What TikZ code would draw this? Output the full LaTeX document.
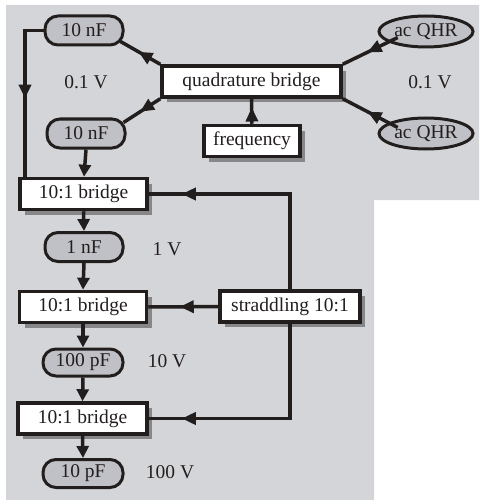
\documentclass[tikz,border=0pt]{standalone}
\usepackage{fontspec}
\setmainfont{Liberation Serif}
\usetikzlibrary{arrows.meta,decorations.markings,shadows,shapes.geometric}
\definecolor{bggray}{RGB}{212,213,216}
\definecolor{ovalgray}{RGB}{192,193,198}
\definecolor{shadgray}{RGB}{135,135,138}
\definecolor{inkc}{RGB}{35,30,30}
\begin{document}
\begin{tikzpicture}[x=1pt,y=-1pt,
  every node/.style={font=\fontsize{19.5}{22}\selectfont, inner sep=0pt, text=inkc},
  link/.style={line width=3.5pt, draw=inkc},
  boxnode/.style={draw=inkc, line width=3.5pt, fill=white, minimum height=31pt,
     drop shadow={shadow xshift=5pt, shadow yshift=-5pt, fill=shadgray, opacity=1}},
  capnode/.style={draw=inkc, line width=3pt, fill=ovalgray, rounded corners=13pt,
     minimum width=78pt, minimum height=29pt},
  qhrnode/.style={ellipse, draw=inkc, line width=3pt, fill=ovalgray,
     minimum width=94pt, minimum height=31pt},
  arrowat/.style={postaction={decorate}, decoration={markings,
     mark=at position #1 with {\arrow{Triangle[length=14pt,width=12pt]}}}},
  endarrow/.style={-{Triangle[length=12pt,width=12pt]}},
  volt/.style={}
]
\useasboundingbox (0,0) rectangle (479,500);
\fill[bggray] (6,5) -- (479,5) -- (479,200) -- (374,200) -- (374,500) -- (6,500) -- cycle;

% nodes
\node[boxnode, minimum width=179pt] (q) at (251.5,81.5) {quadrature bridge};
\node[boxnode, minimum width=96pt] (freq) at (252,141) {frequency};
\node[capnode] (tn) at (84,30.5) {10 nF};
\node[capnode] (bn) at (86,133.5) {10 nF};
\node[qhrnode] (qa) at (426,31.5) {ac QHR};
\node[qhrnode] (qb) at (426,133.5) {ac QHR};
\node[volt] (va) at (86,82) {0.1 V};
\node[volt] (vb) at (430,82) {0.1 V};

\node[boxnode, minimum width=127pt] (b1) at (83.5,194) {10:1 bridge};
\node[capnode] (c1) at (84,247) {1 nF};
\node[volt] (v1) at (167,249) {1 V};
\node[boxnode, minimum width=127pt] (b2) at (83,307) {10:1 bridge};
\node[boxnode, minimum width=140pt] (s) at (290,306.5) {straddling 10:1};
\node[capnode, minimum width=80pt, minimum height=27pt] (c2) at (83,362.5) {100 pF};
\node[volt] (v2) at (167,361) {10 V};
\node[boxnode, minimum width=129pt] (b3) at (82.5,418.5) {10:1 bridge};
\node[capnode, minimum width=80pt, minimum height=28pt] (c3) at (83,473.5) {10 pF};
\node[volt] (v3) at (170,472) {100 V};

% connectors
\coordinate (lc) at (25,30.5);
\coordinate (lb) at (25,178.5);
\draw[link, arrowat=0.52] (tn.west) -- (lc) -- (lb);
\draw[link, arrowat=0.55] (q.north west) -- ([xshift=-4pt,yshift=5pt]tn.south east);
\draw[link, arrowat=0.55] (q.south west) -- ([xshift=-3pt,yshift=-5pt]bn.north east);
\draw[link, arrowat=0.55] ([xshift=6pt,yshift=6pt]qa.south west) -- (q.north east);
\draw[link, arrowat=0.55] ([xshift=6pt,yshift=-6pt]qb.north west) -- (q.south east);
\draw[link, arrowat=0.65] (freq.north) -- (q.south);
\draw[link, endarrow] (bn.south) -- ([xshift=0.5pt]b1.north);
\draw[link, endarrow] (b1.south) -- (c1.north);
\draw[link, endarrow] (c1.south) -- (b2.north);
\draw[link, endarrow] (b2.south) -- (c2.north);
\draw[link, endarrow] (c2.south) -- (b3.north);
\draw[link, endarrow] (b3.south) -- (c3.north);
\draw[link, arrowat=-33pt] (s.north) |- (b1.east);
\draw[link, arrowat=0.55] (s.west) -- (b2.east);
\draw[link, arrowat=-33pt] (s.south) |- (b3.east);
\end{tikzpicture}
\end{document}
